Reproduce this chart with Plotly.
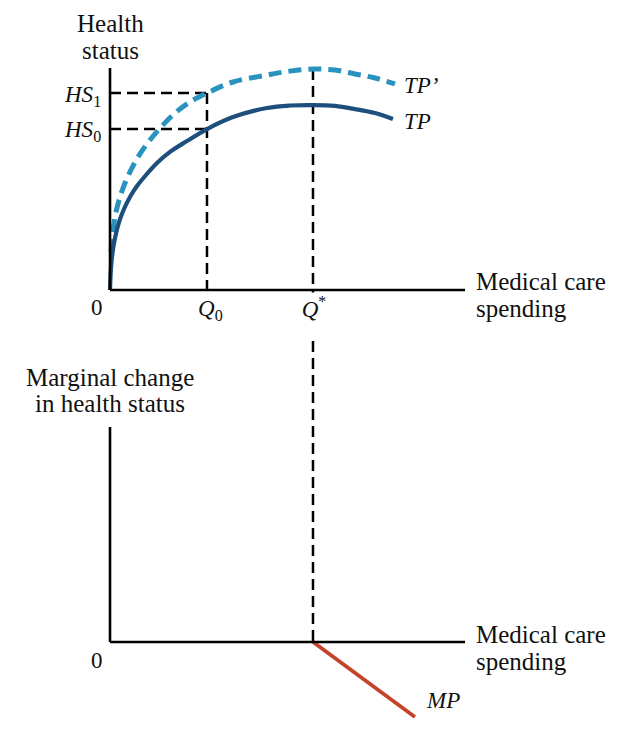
import plotly.graph_objects as go

# ---------------- data (economic units) ----------------
tp_x = [0, 0.028, 0.070, 0.141, 0.254, 0.394, 0.563, 0.761, 1.014, 1.324, 1.690, 2.169,
        2.732, 3.465, 4.423, 5.070, 5.718, 6.338, 6.901, 7.465, 7.970]
tp_y = [0, 0.99, 1.67, 2.34, 3.06, 3.65, 4.19, 4.68, 5.18, 5.72, 6.22, 6.71,
        7.25, 7.79, 8.20, 8.31, 8.33, 8.29, 8.15, 7.97, 7.70]
tpp_x = [0.028, 0.085, 0.169, 0.282, 0.423, 0.620, 0.845, 1.127, 1.437, 1.831, 2.254,
         2.732, 3.465, 4.423, 5.070, 5.718, 6.338, 6.901, 7.465, 8.028]
tpp_y = [1.71, 2.70, 3.51, 4.19, 4.82, 5.50, 6.13, 6.76, 7.34, 7.97, 8.47,
         8.87, 9.37, 9.68, 9.86, 9.95, 9.91, 9.73, 9.55, 9.28]
mp_x = [5.72, 8.59]
mp_y = [0.0, -3.49]
Q0 = 2.732
QSTAR = 5.718
HS0 = 7.25
HS1 = 8.87
TPP_PEAK = 9.95
X_MAX = 10
Y_TOP_MAX = 10
Y_BOT_MAX = 10

# ---------------- layout geometry (pixels) ----------------
W, H = 626, 730
PX_X0, PX_X1 = 110, 465
PX_TOP_Y0, PX_TOP_Y1 = 290, 68
PX_BOT_Y0, PX_BOT_Y1 = 642, 427

sx = (PX_X1 - PX_X0) / X_MAX
s1 = (PX_TOP_Y0 - PX_TOP_Y1) / Y_TOP_MAX
s2 = (PX_BOT_Y0 - PX_BOT_Y1) / Y_BOT_MAX
x_range = [-PX_X0 / sx, (W - PX_X0) / sx]
y_range = [-(H - PX_TOP_Y0) / s1, PX_TOP_Y0 / s1]
y2_range = [-(H - PX_BOT_Y0) / s2, PX_BOT_Y0 / s2]
qstar_bottom = -(PX_BOT_Y0 - PX_TOP_Y0) / s1  # bottom baseline expressed in top-axis units

C_TP = "#1d4f7d"
C_TPP = "#2a92bf"
C_MP = "#c4432a"
FONT = "Liberation Serif"

fig = go.Figure()


def line(x, y, color="black", width=2.5, dash=None, yaxis="y"):
    fig.add_trace(go.Scatter(x=x, y=y, mode="lines", yaxis=yaxis, hoverinfo="skip",
                             line=dict(color=color, width=width, dash=dash)))


DASH_REF = "11px,6px"
# reference dashed lines
line([0, Q0], [HS1, HS1], dash=DASH_REF)
line([0, Q0], [HS0, HS0], dash=DASH_REF)
line([Q0, Q0], [HS1, 0], dash=DASH_REF)
line([QSTAR, QSTAR], [TPP_PEAK, qstar_bottom], dash=DASH_REF)

# curves
fig.add_trace(go.Scatter(x=tpp_x, y=tpp_y, mode="lines", hoverinfo="skip",
                         line=dict(color=C_TPP, width=5, dash="13px,7px",
                                   shape="spline", smoothing=1)))
fig.add_trace(go.Scatter(x=tp_x, y=tp_y, mode="lines", hoverinfo="skip",
                         line=dict(color=C_TP, width=4.2, shape="spline", smoothing=1)))
line(mp_x, mp_y, color=C_MP, width=3.8, yaxis="y2")

# axes
line([0, X_MAX], [0, 0], width=2.6)
line([0, 0], [0, Y_TOP_MAX], width=2.6)
line([0, X_MAX], [0, 0], width=2.6, yaxis="y2")
line([0, 0], [0, Y_BOT_MAX], width=2.6, yaxis="y2")


def ann(text, px, py, size, xanchor="center", **kw):
    fig.add_annotation(text=text, x=px / W, y=1 - py / H, xref="paper", yref="paper",
                       xanchor=xanchor, yanchor=kw.pop("yanchor", "middle"), showarrow=False,
                       font=dict(family=FONT, size=size, color="#111111"), **kw)


T = 25
ann("Health", 110, 24, T)
ann("status", 110, 51, T)
ann("Marginal change", 110, 377, T)
ann("in health status", 110, 404, T)
ann("Medical care", 474, 281, T, "left")
ann("spending", 474, 308, T, "left")
ann("Medical care", 474, 634, T, "left")
ann("spending", 474, 661, T, "left")

S = 23
ann("0", 97, 307, S)
ann("0", 97, 660, S)
ann("<i>Q</i><sub>0</sub>", 210, 310, S)
ann("<i>Q</i><sup>*</sup>", 314, 292, S, yanchor="top", height=44, width=34,
    valign="top", bgcolor="white", borderpad=0)
ann("<i>HS</i><sub>1</sub>", 103, 96, S, "right")
ann("<i>HS</i><sub>0</sub>", 103, 131, S, "right")
ann("<i>TP’</i>", 402, 86, 23, "left")
ann("<i>TP</i>", 402, 121, 23, "left")
ann("<i>MP</i>", 424, 700, 23, "left")

fig.update_layout(
    width=W, height=H, margin=dict(l=0, r=0, t=0, b=0),
    paper_bgcolor="white", plot_bgcolor="white", showlegend=False,
    xaxis=dict(domain=[0, 1], range=x_range, visible=False, fixedrange=True),
    yaxis=dict(domain=[0, 1], range=y_range, visible=False, fixedrange=True),
    yaxis2=dict(domain=[0, 1], range=y2_range, visible=False, overlaying="y",
                anchor="x", fixedrange=True),
)

fig.write_html("out.html")
